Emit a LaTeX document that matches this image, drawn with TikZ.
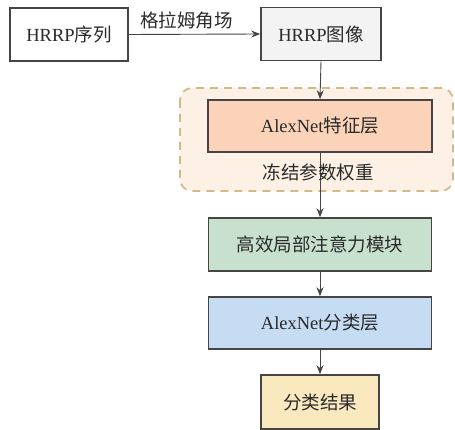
\documentclass[tikz,border=0pt]{standalone}
\usepackage{fontspec}
\setmainfont{Liberation Serif}
\newfontfamily\cjk{Noto Sans CJK SC}
\usetikzlibrary{arrows.meta}
\definecolor{bordc}{HTML}{454545}
\definecolor{txtc}{HTML}{2A2A2A}
\definecolor{greyf}{HTML}{F3F3F3}
\definecolor{peachf}{HTML}{FAD3B8}
\definecolor{zonef}{HTML}{FDF1E5}
\definecolor{zoned}{HTML}{D2BA88}
\definecolor{greenf}{HTML}{C8E1CF}
\definecolor{bluef}{HTML}{C6DCF2}
\definecolor{yellowf}{HTML}{FAE8BE}
\tikzset{
  x=1pt, y=1pt,
  box/.style={draw=bordc, line width=1.6pt, minimum height=53pt, inner sep=0pt,
    text=txtc, font=\fontsize{18.5}{22}\selectfont},
  lbl/.style={text=txtc, font={\fontsize{18.5}{22}\selectfont\cjk}},
  conn/.style={draw=bordc, line width=0.9pt, -{Stealth[length=9pt,width=7pt]}},
}
\begin{document}
\begin{tikzpicture}
\useasboundingbox (0,0) rectangle (455,-430);
\fill[white] (0,0) rectangle (455,-430);
% frozen zone
\draw[draw=zoned, fill=zonef, line width=1.7pt, dash pattern=on 8pt off 6pt, rounded corners=12pt]
  (180,-88) rectangle (453,-191);
\node[box, fill=white, minimum width=118pt] (seq) at (69,-34.5) {HRRP{\cjk 序列}};
\node[box, fill=greyf, minimum width=120pt] (img) at (321,-34) {HRRP{\cjk 图像}};
\node[box, fill=peachf, minimum width=224pt, minimum height=52pt] (feat) at (320,-126) {AlexNet{\cjk 特征层}};
\node[box, fill=greenf, minimum width=223pt] (att) at (320,-244.5) {\cjk 高效局部注意力模块};
\node[box, fill=bluef, minimum width=223pt, minimum height=52pt] (cls) at (320,-323) {AlexNet{\cjk 分类层}};
\node[box, fill=yellowf, minimum width=118pt, minimum height=54pt] (res) at (320,-402) {\cjk 分类结果};
\draw[conn] (seq.east) -- node[above=1pt, xshift=-8pt, lbl] {格拉姆角场} (img.west);
\draw[conn] (img.south) -- (feat.north);
\draw[conn] (feat.south) -- (att.north);
\node[lbl] (frz) at (318,-172) {冻结参数权重};
\draw[conn] (att.south) -- (cls.north);
\draw[conn] (cls.south) -- (res.north);
\end{tikzpicture}
\end{document}
